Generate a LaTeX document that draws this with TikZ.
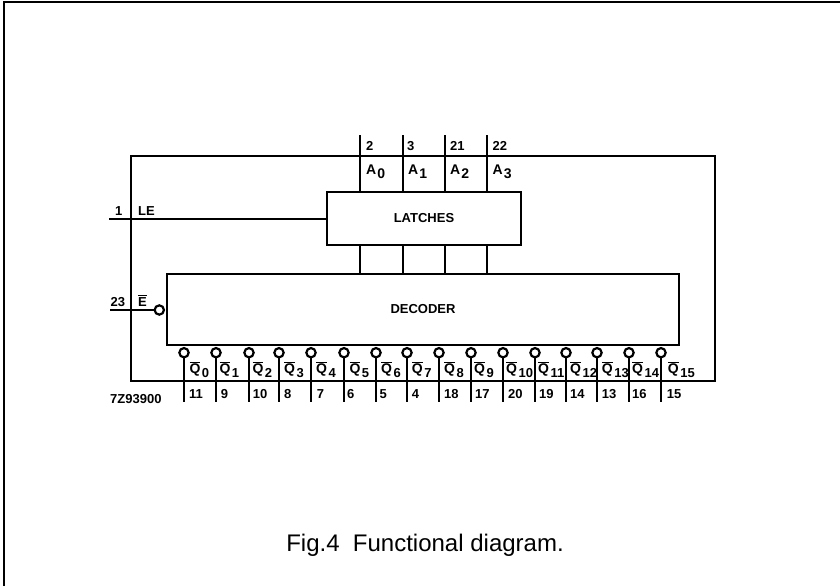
\documentclass[tikz,border=0pt]{standalone}
\usepackage{fontspec}
\setmainfont{Liberation Sans}
\tikzset{
  ln/.style={line width=1.5pt},
  block/.style={draw,line width=2pt,inner sep=0pt,font=\fontsize{13}{14}\bfseries},
  bub/.style={circle,draw,line width=2.2pt,fill=white,minimum size=9.3pt,inner sep=0pt},
  lab/.style={inner sep=0pt,font=\fontsize{13}{14}\bfseries,anchor=base west},
  pin/.style={inner sep=0pt,font=\fontsize{13}{14}\bfseries,anchor=base west}
}
\newcommand{\ovQ}[1]{$\overline{\mbox{\fontsize{14}{15}\bfseries Q}}$\kern1.5pt\raisebox{-4pt}{#1}}
\begin{document}
\begin{tikzpicture}[x=1pt,y=-1pt]
\useasboundingbox (0,0) rectangle (840,586);
\coordinate (fa) at (4,586);
\coordinate (fb) at (4,2);
\coordinate (fc) at (840,2);
\draw[line width=2pt] (fa) -- (fb) -- (fc);
% chip outline
\node[block,line width=1.9pt,minimum width=584pt,minimum height=225pt] (chip) at (423,268.5) {};
\node[block,minimum width=194pt,minimum height=53pt,fill=white] (latches) at (424,218.5) {LATCHES};
\node[block,minimum width=512pt,minimum height=71pt,fill=white] (decoder) at (423,309.5) {DECODER};
% address pins
\foreach \n/\x/\px/\s in {a/360/366/0,b/403/408/1,c/445/450/2,d/487/492.5/3}{
  \coordinate (t\n) at (\x,135);
  \draw[ln] (t\n) -- (\x,191);
  \draw[ln] (\x,246) -- (\x,274);
  \node[lab,font=\fontsize{14}{15}\bfseries] (l\n) at (\px,174.5) {A\kern1pt\raisebox{-4pt}{\s}};
}
\node[pin] (pa) at (366,150) {2};
\node[pin] (pb) at (407,150) {3};
\node[pin] (pc) at (450,150) {21};
\node[pin] (pd) at (492.5,150) {22};
% LE
\coordinate (le) at (109,219);
\draw[ln] (le) -- (latches.west |- le);
\node[pin] (p1) at (115,215) {1};
\node[lab] (lle) at (138,215.5) {LE};
% E
\node[bub] (ebub) at (159.3,310) {};
\coordinate (ee) at (110,310);
\draw[ln,line width=1.9pt] (ee) -- (ebub);
\node[pin] (p23) at (110.5,306) {23};
\node[lab] (le2) at (138,306) {$\overline{\mbox{E}}$};
% outputs
\foreach \i/\x/\lx/\nx/\p in {0/184/189.3/189/11,1/216/219.3/220.7/9,2/249/252.3/252.7/10,3/279/284/284/8,4/311/316/316.7/7,5/344/349.3/347/6,6/376/381/379.3/5,7/407/411.7/411.7/4,8/439/444/444/18,9/471/474/475/17,10/503/506/508/20,11/535/538/539/19,12/566/570/570/14,13/597/601.7/601.7/13,14/629/632/632/16,15/661/667.7/666.7/15}{
  \node[bub] (q\i) at (\x,352.7) {};
  \coordinate (e\i) at (\x,402);
  \draw[ln] (q\i) -- (e\i);
  \node[pin] (n\i) at (\nx,398) {\p};
  \node[lab] (o\i) at (\lx,373) {\ovQ{\i}};
}
\node[lab] (code) at (110,403) {7Z93900};
\node[inner sep=0pt,font=\fontsize{24}{26}\selectfont,anchor=base] (cap) at (425,551) {Fig.4\ \ Functional diagram.};
\end{tikzpicture}
\end{document}
